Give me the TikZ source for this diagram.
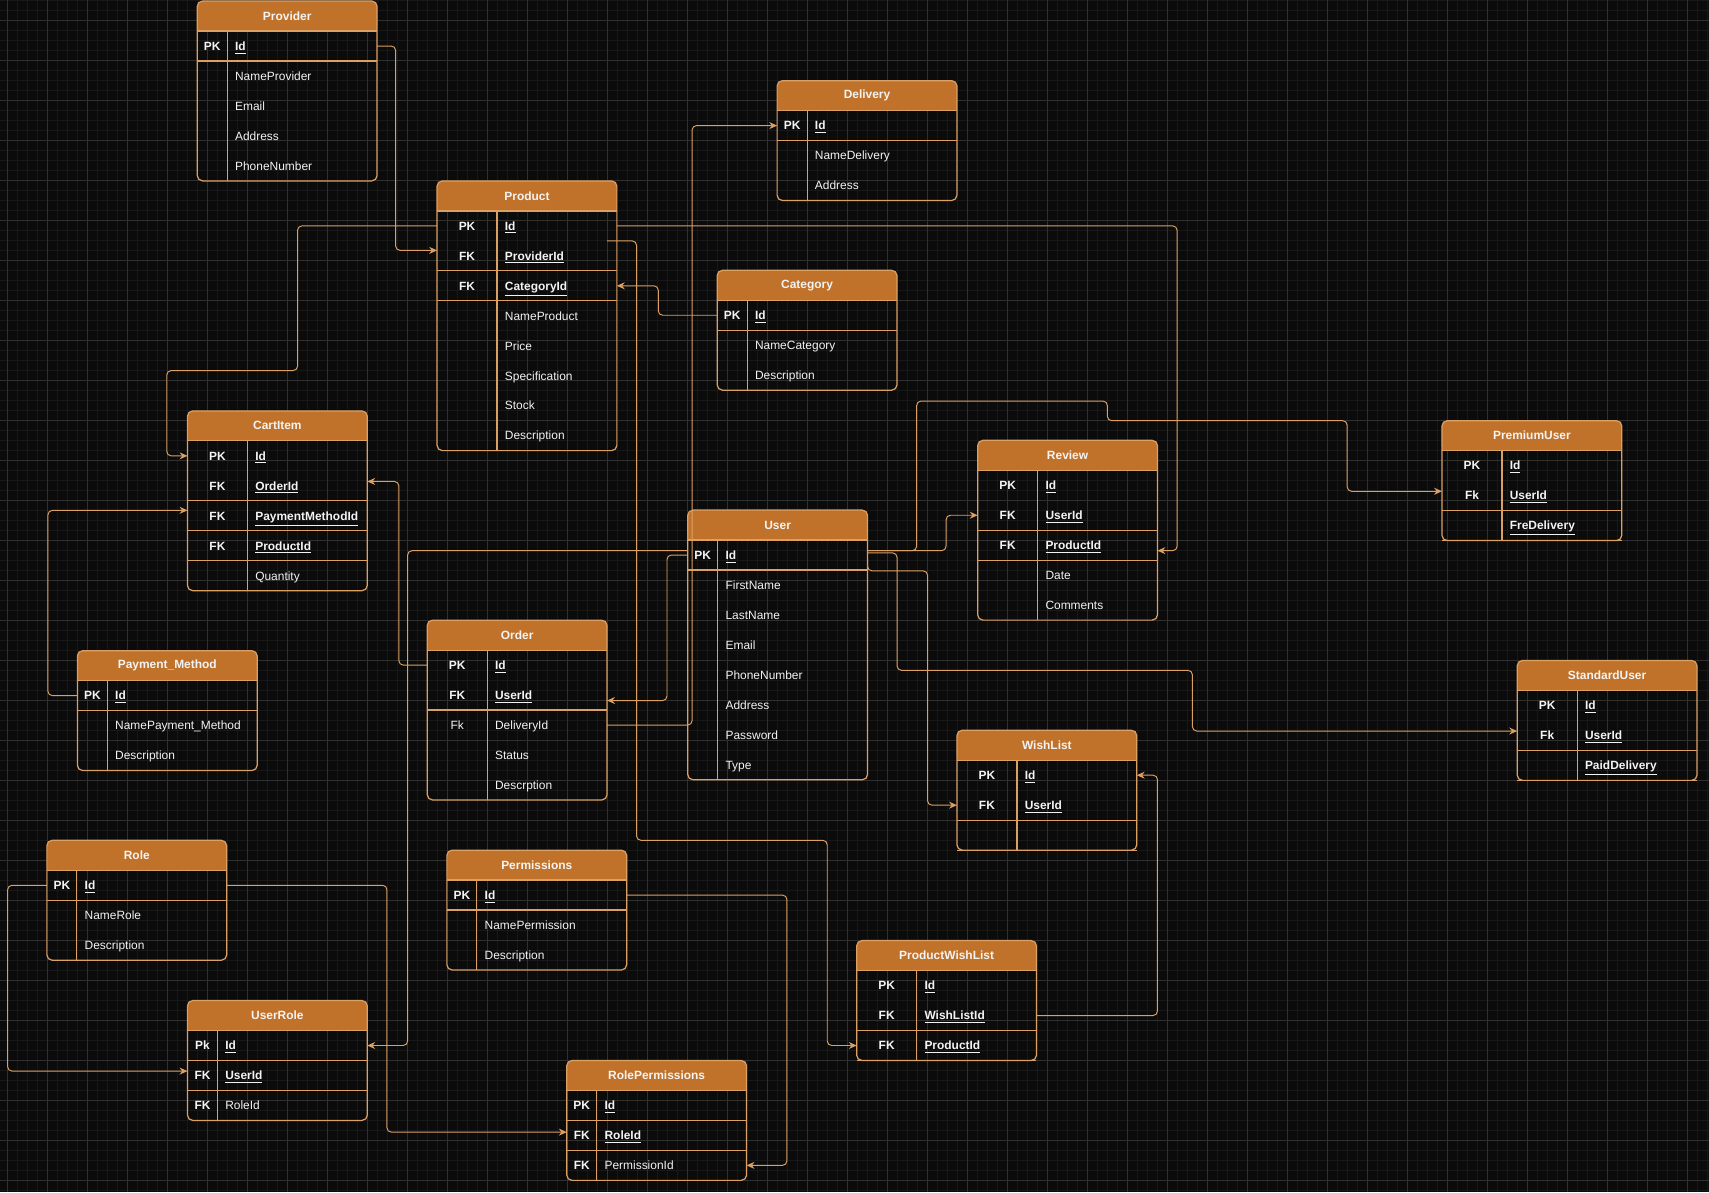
\documentclass[tikz,border=0pt]{standalone}
\usepackage{fontspec}
\setmainfont{Liberation Sans}
\usetikzlibrary{positioning,calc,arrows.meta}

\definecolor{bgcol}{HTML}{0B0B0B}
\definecolor{minorcol}{HTML}{181818}
\definecolor{majorcol}{HTML}{303030}
\definecolor{hdrcol}{HTML}{C0722B}
\definecolor{edgecol}{HTML}{DBA064}
\definecolor{txtcol}{HTML}{F4F4F4}

\newcommand{\keyf}[1]{\textbf{\underline{#1}}}

\tikzset{
  tabhead/.style={anchor=north west, minimum width=3.597cm, minimum height=0.5995cm,
    inner sep=0pt, outer sep=0pt, text=txtcol, font=\bfseries\fontsize{6.8}{8}\selectfont},
  tabrow/.style={minimum width=3.597cm, minimum height=0.5995cm, inner sep=0pt, outer sep=0pt},
  keytext/.style={text=txtcol, font=\bfseries\fontsize{6.8}{8}\selectfont, inner sep=0pt,
    text height=4.9pt, text depth=0pt},
  fieldtext/.style={anchor=west, text=txtcol, font=\fontsize{6.8}{8}\selectfont, inner sep=0pt,
    text height=4.9pt, text depth=0pt},
  tabline/.style={draw=edgecol, line width=0.7pt},
  fk/.style={draw=edgecol, line width=0.55pt, rounded corners=2.5pt,
    -{Stealth[length=4.5pt,width=4pt]}},
}

% #1 name, #2 top left, #3 key column width, #4 title, #5 rows key/field, #6 lines under rows
\newcommand{\ertable}[6]{%
  \fill[hdrcol, rounded corners=3pt] (#2) rectangle ++(165,27.5);
  \fill[hdrcol] ($(#2)+(0,14)$) rectangle ++(165,13.5);
  \node[tabhead, alias=#1-0] (#1) at (#2) {#4};
  \draw[tabline] (#1.south west) -- (#1.south east);
  \foreach \k/\f [count=\i, remember=\i as \j (initially 0)] in {#5} {
    \node[tabrow, below=0pt of #1-\j] (#1-\i) {};
    \node[keytext] at ([xshift=#3/2]#1-\i.west) {\k};
    \node[fieldtext] at ([xshift=#3+0.15cm]#1-\i.west) {\f};
    \draw[tabline] ([xshift=#3]#1-\i.north west) -- ([xshift=#3]#1-\i.south west);
    \xdef\lastrow{\i}
  }
  \foreach \s in {#6}
    \draw[tabline] (#1-\s.south west) -- (#1-\s.south east);
  \draw[tabline, rounded corners=3pt] (#1.north west) rectangle (#1-\lastrow.south east);
}

\begin{document}
\begin{tikzpicture}[x=0.0218cm, y=-0.0218cm]
  \useasboundingbox (0,0) rectangle (1568,1094);
  \clip (0,0) rectangle (1568,1094);
  % background grid
  \fill[bgcol] (0,0) rectangle (1568,1094);
  \foreach \n in {0,...,170}
    \draw[minorcol, line width=0.4pt] ({6.7+9.174*\n},0) -- ++(0,1094);
  \foreach \n in {0,...,119}
    \draw[minorcol, line width=0.4pt] (0,{0.25+9.174*\n}) -- ++(1568,0);
  \foreach \n in {0,...,42}
    \draw[majorcol, line width=0.5pt] ({6.7+36.7*\n},0) -- ++(0,1094);
  \foreach \n in {0,...,29}
    \draw[majorcol, line width=0.5pt] (0,{18.6+36.7*\n}) -- ++(1568,0);

  % tables
  \ertable{provider}{181,1}{0.6cm}{Provider}
    {PK/\keyf{Id}, /NameProvider, /Email, /Address, /PhoneNumber}{1}
  \ertable{product}{401,166}{1.2cm}{Product}
    {PK/\keyf{Id}, FK/\keyf{ProviderId}, FK/\keyf{CategoryId}, /NameProduct, /Price,
     /Specification, /Stock, /Description}{2,3}
  \ertable{delivery}{713,74}{0.6cm}{Delivery}
    {PK/\keyf{Id}, /NameDelivery, /Address}{1}
  \ertable{category}{658,248}{0.6cm}{Category}
    {PK/\keyf{Id}, /NameCategory, /Description}{1}
  \ertable{cartitem}{172,377}{1.2cm}{CartItem}
    {PK/\keyf{Id}, FK/\keyf{OrderId}, FK/\keyf{PaymentMethodId}, FK/\keyf{ProductId}, /Quantity}{2,3,4}
  \ertable{paymentmethod}{71,597}{0.6cm}{Payment\_Method}
    {PK/\keyf{Id}, /NamePayment\_Method, /Description}{1}
  \ertable{order}{392,569}{1.2cm}{Order}
    {PK/\keyf{Id}, FK/\keyf{UserId}, \textnormal{Fk}/DeliveryId, /Status, /Descrption}{2}
  \ertable{user}{631,468}{0.6cm}{User}
    {PK/\keyf{Id}, /FirstName, /LastName, /Email, /PhoneNumber, /Address, /Password, /Type}{1}
  \ertable{review}{897,404}{1.2cm}{Review}
    {PK/\keyf{Id}, FK/\keyf{UserId}, FK/\keyf{ProductId}, /Date, /Comments}{2,3}
  \ertable{premiumuser}{1323,386}{1.2cm}{PremiumUser}
    {PK/\keyf{Id}, Fk/\keyf{UserId}, /\keyf{FreDelivery}}{2,3}
  \ertable{standarduser}{1392,606}{1.2cm}{StandardUser}
    {PK/\keyf{Id}, Fk/\keyf{UserId}, /\keyf{PaidDelivery}}{2,3}
  \ertable{wishlist}{878,670}{1.2cm}{WishList}
    {PK/\keyf{Id}, FK/\keyf{UserId}, /}{2,3}
  \ertable{role}{43,771}{0.6cm}{Role}
    {PK/\keyf{Id}, /NameRole, /Description}{1}
  \ertable{permissions}{410,780}{0.6cm}{Permissions}
    {PK/\keyf{Id}, /NamePermission, /Description}{1}
  \ertable{userrole}{172,918}{0.6cm}{UserRole}
    {Pk/\keyf{Id}, FK/\keyf{UserId}, FK/RoleId}{1,2}
  \ertable{productwishlist}{786,863}{1.2cm}{ProductWishList}
    {PK/\keyf{Id}, FK/\keyf{WishListId}, FK/\keyf{ProductId}}{2,3}
  \ertable{rolepermissions}{520,973}{0.6cm}{RolePermissions}
    {PK/\keyf{Id}, FK/\keyf{RoleId}, FK/PermissionId}{1,2}

  % relations
  \draw[fk] (provider-1.east) -| ($(product-2.west)+(-38,-5)$) -- ($(product-2.west)+(0,-5)$);
  \draw[fk] (product-1.west) -| (273,340) -| ($(cartitem-1.west)+(-19,0)$) -- (cartitem-1.west);
  \draw[fk] (product-1.east) -| ($(review-3.east)+(18,5)$) -- ($(review-3.east)+(0,5)$);
  \draw[fk] ($(product-1.south east)+(-9,0)$) -| (584,771)
    -| ($(productwishlist-3.west)+(-27,0)$) -- (productwishlist-3.west);
  \draw[fk] (category-1.west) -| ($(product-3.east)+(38,0)$) -- (product-3.east);
  \draw[fk] (user-1.west) -| ($(order-2.east)+(55,5)$) -- ($(order-2.east)+(0,5)$);
  \draw[fk] (order-3.east) -| ($(delivery-1.west)+(-78,0)$) -- (delivery-1.west);
  \draw[fk] (order-1.west) -| ($(cartitem-2.east)+(29,-4)$) -- ($(cartitem-2.east)+(0,-4)$);
  \draw[fk] (paymentmethod-1.west) -| ($(cartitem-3.west)+(-128,-5)$) -- ($(cartitem-3.west)+(0,-5)$);
  \draw[fk] ($(user-1.east)+(0,-4)$) -| ($(review-2.west)+(-29,0)$) -- (review-2.west);
  \draw[fk] ($(user-1.east)+(0,-4)$) -| (841,368) -| (1016,386)
    -| ($(premiumuser-2.west)+(-87,-4)$) -- ($(premiumuser-2.west)+(0,-4)$);
  \draw[fk] ($(user-1.east)+(0,-2)$) -| (823,615)
    -| ($(standarduser-2.west)+(-298,-4)$) -- ($(standarduser-2.west)+(0,-4)$);
  \draw[fk] ($(user-1.east)+(0,4)$) |- ($(wishlist-2.west)+(-27,-215)$) |- (wishlist-2.west);
  \draw[fk] ($(user-1.west)+(0,-4)$) -| ($(userrole-1.east)+(37,0)$) -- (userrole-1.east);
  \draw[fk] (role-1.west) -| ($(userrole-2.west)+(-165,-4)$) -- ($(userrole-2.west)+(0,-4)$);
  \draw[fk] (role-1.east) -| ($(rolepermissions-2.west)+(-165,-3)$) -- ($(rolepermissions-2.west)+(0,-3)$);
  \draw[fk] (permissions-1.east) -| ($(rolepermissions-3.east)+(37,0)$) -- (rolepermissions-3.east);
  \draw[fk] (productwishlist-2.east) -| ($(wishlist-1.east)+(19,0)$) -- (wishlist-1.east);
\end{tikzpicture}
\end{document}
